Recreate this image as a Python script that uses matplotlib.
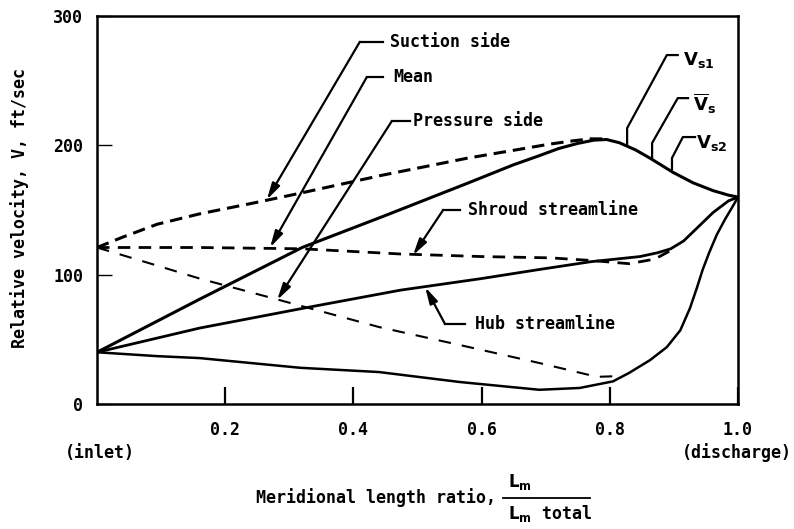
import matplotlib
matplotlib.use("Agg")
import matplotlib.pyplot as plt

# meridional length ratio (x) and relative velocity, ft/sec (y)
# shroud streamline (dashed)
shroud_suction_x = [0, 0.04, 0.094, 0.16, 0.25, 0.317, 0.446, 0.577, 0.707, 0.743, 0.77, 0.79]
shroud_suction_v = [121, 129, 139, 147, 156, 163, 177, 190, 201, 203.5, 205, 205]
shroud_mean_x = [0, 0.16, 0.32, 0.473, 0.6, 0.707, 0.77, 0.83, 0.87, 0.9]
shroud_mean_v = [121, 121, 120, 116, 114, 113, 111, 108.5, 112, 120]
shroud_pressure_x = [0, 0.094, 0.16, 0.28, 0.44, 0.566, 0.69, 0.78, 0.81]
shroud_pressure_v = [121, 107, 97, 81, 59.5, 45.6, 31.7, 21, 21.5]

# hub streamline (solid)
hub_suction_x = [0, 0.16, 0.32, 0.446, 0.577, 0.65, 0.69, 0.72, 0.75, 0.775, 0.795,
                 0.815, 0.84, 0.863, 0.899, 0.93, 0.961, 0.985, 1.0]
hub_suction_v = [40, 81, 121, 145, 170.5, 185, 192, 197.5, 201.5, 204, 204.5,
                 202, 196.5, 190, 179, 171, 165, 161.5, 160]
hub_mean_x = [0, 0.16, 0.332, 0.473, 0.6, 0.69, 0.77, 0.847, 0.875, 0.895, 0.915,
              0.936, 0.961, 0.985, 1.0]
hub_mean_v = [40, 58.7, 75, 88, 97, 104, 110, 114, 117, 120, 126, 136, 148, 157, 160]
hub_pressure_x = [0, 0.094, 0.16, 0.317, 0.44, 0.566, 0.69, 0.753, 0.805, 0.83,
                  0.863, 0.889, 0.91, 0.925, 0.936, 0.945, 0.955, 0.967, 0.98,
                  0.992, 1.0]
hub_pressure_v = [40, 37, 35.5, 28, 24.7, 17, 11, 12.4, 17.5, 24,
                  34, 44, 57, 74, 90, 104, 117, 131, 143, 153, 160]

x_ticks = [0.2, 0.4, 0.6, 0.8, 1.0]
x_ticklabels = ['0.2', '0.4', '0.6', '0.8', '1.0']
y_ticks = [0, 100, 200, 300]
y_ticklabels = ['0', '100', '200', '300']

plt.rcParams['font.family'] = 'DejaVu Sans Mono'
plt.rcParams['font.weight'] = 'bold'
plt.rcParams['mathtext.fontset'] = 'dejavusans'
plt.rcParams['lines.scale_dashes'] = False

W, H = 794, 529
fig = plt.figure(figsize=(W / 100, H / 100), dpi=100)
ax = fig.add_axes([97 / W, 1 - 404 / H, 641 / W, 388 / H])

# curves
ax.plot(shroud_suction_x, shroud_suction_v, color='k', lw=2.2, dashes=(9, 5))
ax.plot(shroud_mean_x, shroud_mean_v, color='k', lw=2.0, dashes=(9, 6))
ax.plot(shroud_pressure_x, shroud_pressure_v, color='k', lw=1.5, dashes=(9, 8))
ax.plot(hub_suction_x, hub_suction_v, color='k', lw=2.2, solid_joinstyle='round')
ax.plot(hub_mean_x, hub_mean_v, color='k', lw=2.0, solid_joinstyle='round')
ax.plot(hub_pressure_x, hub_pressure_v, color='k', lw=1.8, solid_joinstyle='round')

ax.set_xlim(0, 1.0)
ax.set_ylim(0, 300)
for s in ax.spines.values():
    s.set_linewidth(1.8)
ax.set_xticks(x_ticks)
ax.set_xticklabels(x_ticklabels, fontsize=12)
ax.set_yticks(y_ticks)
ax.set_yticklabels(y_ticklabels, fontsize=12)
ax.tick_params(axis='x', direction='in', length=12, width=1.6, pad=12)
ax.tick_params(axis='y', direction='in', length=11, width=1.0, pad=10)


def leader(text, tip, corner, end, txt_xy, arrow=True, **kw):
    # horizontal stub next to the text, then a diagonal to the curve
    ax.plot([corner[0], end[0]], [corner[1], end[1]], color='k', lw=1.6)
    if arrow:
        ax.annotate('', xy=tip, xytext=corner,
                    arrowprops=dict(arrowstyle='-|>,head_length=0.7,head_width=0.18',
                                    mutation_scale=14, color='k', lw=1.6,
                                    shrinkA=0, shrinkB=0))
    ax.text(txt_xy[0], txt_xy[1], text, fontsize=12, ha='left', va='center', **kw)


leader('Suction side', (0.265, 158), (0.41, 280), (0.446, 280), (0.457, 280))
leader('Mean', (0.27, 121), (0.421, 252.8), (0.446, 252.8), (0.462, 252.8))
leader('Pressure side', (0.281, 80.4), (0.46, 218.8), (0.488, 218.8), (0.493, 218.8))
leader('Shroud streamline', (0.493, 115), (0.54, 150), (0.566, 150), (0.579, 150))
leader('Hub streamline', (0.512, 90.4), (0.543, 61.8), (0.574, 61.8), (0.59, 61.8))

# V labels on the descending part
v_leaders = [
    ([0.889, 0.906], [269.8, 269.8], (0.827, 213.3), (0.827, 200.2),
     r'$\mathbf{V}_{\mathbf{s1}}$', (0.914, 266)),
    ([0.906, 0.922], [236.5, 236.5], (0.866, 201.8), (0.866, 190.2),
     r'$\overline{\mathbf{V}}_{\mathbf{s}}$', (0.930, 232)),
    ([0.914, 0.933], [206.4, 206.4], (0.897, 190.2), (0.897, 181.5),
     r'$\mathbf{V}_{\mathbf{s2}}$', (0.935, 202)),
]
for hx, hy, mid, foot, label, pos in v_leaders:
    ax.plot([hx[1], hx[0], mid[0], foot[0]], [hy[1], hy[0], mid[1], foot[1]],
            color='k', lw=1.6)
    ax.text(pos[0], pos[1], label, fontsize=13, ha='left', va='center')

# axis titles
fig.text(20 / W, 1 - 208 / H, 'Relative velocity, V, ft/sec', rotation=90,
         fontsize=12, ha='center', va='center')
fig.text(100 / W, 1 - 453 / H, '(inlet)', fontsize=12, ha='center', va='center')
fig.text(737 / W, 1 - 453 / H, '(discharge)', fontsize=12, ha='center', va='center')
fig.text(496 / W, 1 - 498 / H, 'Meridional length ratio,', fontsize=12,
         ha='right', va='center')
fig.add_artist(plt.Line2D([503 / W, 590 / W], [1 - 498 / H, 1 - 498 / H],
                          color='k', lw=1.3))
fig.text(508 / W, 1 - 482 / H, r'$\mathbf{L}_{\mathbf{m}}$', fontsize=12,
         ha='left', va='center')
fig.text(508 / W, 1 - 514 / H, r'$\mathbf{L}_{\mathbf{m}}$ total', fontsize=12,
         ha='left', va='center')

fig.savefig('out.png', dpi=100)
